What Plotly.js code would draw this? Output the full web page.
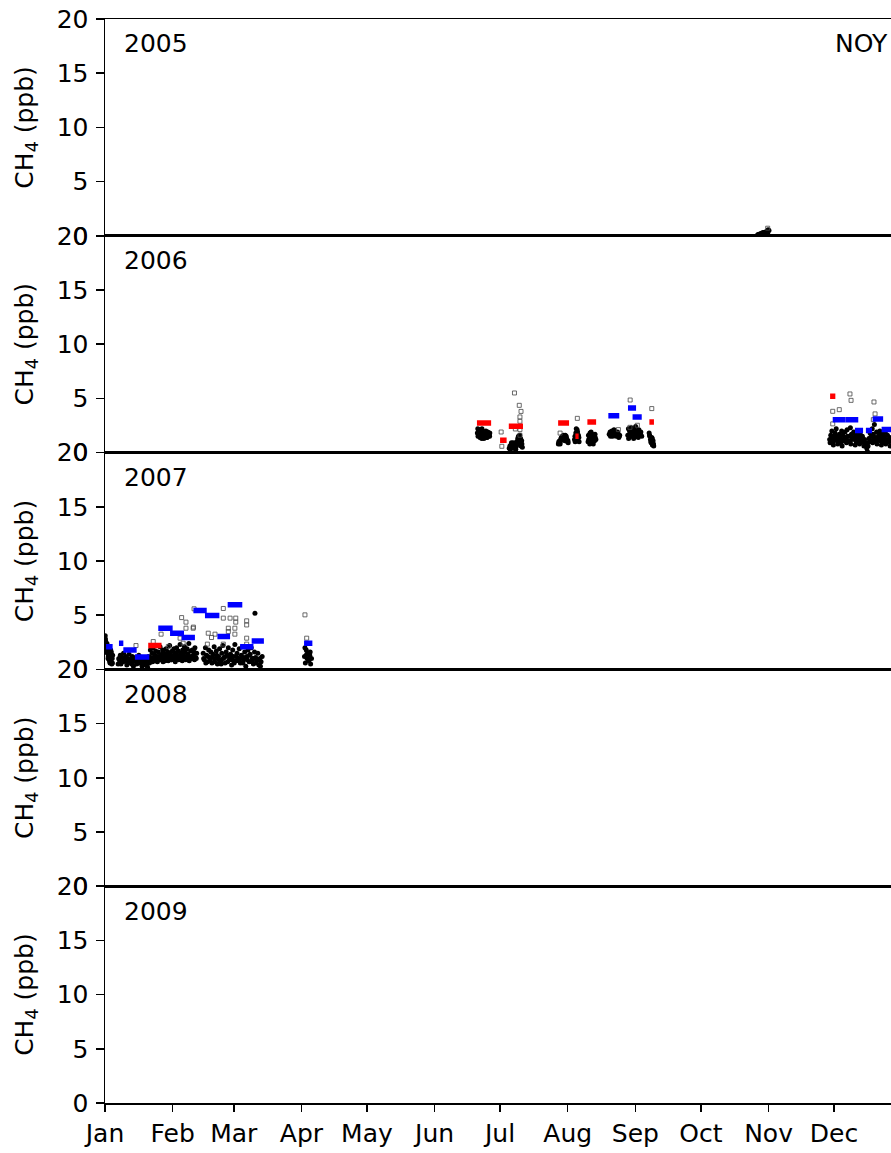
<!DOCTYPE html>
<html>
<head>
<meta charset="utf-8">
<script src="https://cdn.plot.ly/plotly-3.0.1.min.js"></script>
<style>html,body{margin:0;padding:0;background:#fff;overflow:hidden;}</style>
</head>
<body>
<div id="chart"></div>
<script>
// ---- axis labels ----
const years = ["2005", "2006", "2007", "2008", "2009"];
const monthLabels = ["Jan","Feb","Mar","Apr","May","Jun","Jul","Aug","Sep","Oct","Nov","Dec"];
const monthDays = [0, 31, 59, 90, 120, 151, 181, 212, 243, 273, 304, 334];
const yTicks = [0, 5, 10, 15, 20];
const stationLabel = "NOY";

// ---- 2005: black points (day of year, CH4 ppb) ----
const blk05_d = [299.0,299.4,299.8,300.2,300.6,301.0,301.4,301.8,302.2,302.6,303.0,303.4,303.8,304.2,300.0,301.2,302.4,303.6];
const blk05_v = [0.10,0.12,0.15,0.18,0.20,0.25,0.28,0.30,0.30,0.35,0.38,0.45,0.55,0.50,0.10,0.12,0.15,0.20];
const gry05_d = [303.6];
const gry05_v = [0.7];

// ---- 2006: black points ----
const blk06_d = [
 170.6,170.9,171.2,171.5,171.8,172.1,172.4,172.7,173.0,173.3,173.6,173.9,174.2,174.5,174.8,175.1,175.4,175.7,176.0,176.3,
 170.8,171.4,172.0,172.6,173.2,173.8,174.4,175.0,175.6,176.2,
 185.2,185.5,185.8,186.1,186.4,186.7,187.0,187.3,187.6,187.9,188.2,188.5,188.8,189.1,189.4,189.7,190.0,190.3,190.6,190.9,191.2,
 185.6,186.2,186.8,187.4,188.0,188.6,189.2,189.8,190.4,191.0,
 207.7,208.0,208.3,208.6,208.9,209.2,209.5,209.8,210.1,210.4,210.7,211.0,211.3,211.6,211.9,212.2,
 207.9,208.5,209.1,209.7,210.3,210.9,211.5,212.1,
 215.1,215.4,215.7,216.0,216.3,216.6,216.9,217.2,215.3,215.9,216.5,217.1,
 221.3,221.6,221.9,222.2,222.5,222.8,223.1,223.4,223.7,224.0,224.3,224.6,224.9,221.5,222.1,222.7,223.3,223.9,224.5,
 231.0,231.4,231.8,232.2,232.6,233.0,233.4,233.8,234.2,234.6,235.0,235.4,235.8,231.6,232.4,233.2,234.0,234.8,235.6,
 239.5,239.9,240.3,240.7,241.1,241.5,241.9,242.3,242.7,243.1,243.5,243.9,244.3,244.7,245.1,245.5,245.9,
 239.8,240.6,241.4,242.2,243.0,243.8,244.6,245.4,
 249.3,249.6,249.9,250.2,250.5,250.8,251.1,251.4,249.5,250.1,250.7,251.3,
 332.0,332.5,333.0,333.5,334.0,334.5,335.0,335.5,336.0,336.5,337.0,337.5,338.0,338.5,339.0,339.5,340.0,340.5,341.0,341.5,
 342.0,342.5,343.0,343.5,344.0,344.5,345.0,345.5,346.0,346.5,347.0,347.5,348.0,348.5,349.0,349.3,349.6,350.0,350.5,351.0,
 351.5,352.0,352.5,353.0,353.5,354.0,354.5,355.0,355.5,356.0,356.5,357.0,357.5,358.0,358.5,359.0,359.5,360.0,
 332.2,332.8,333.4,334.2,335.2,336.2,337.2,338.2,339.2,340.2,341.2,342.2,343.2,344.2,345.2,346.2,347.2,348.2,350.2,351.2,
 352.2,353.2,354.2,355.2,356.2,357.2,358.2,359.2,
 333.7,335.7,337.7,339.7,341.7,343.7,345.7,347.7,351.7,353.7,355.7,357.7,359.7
];
const blk06_v = [
 1.8,1.5,2.1,1.7,1.4,1.9,1.6,2.2,1.5,1.8,1.3,1.7,1.6,2.0,1.4,1.7,1.9,1.5,1.6,1.8,
 2.2,1.9,1.5,1.3,1.9,1.5,1.8,1.4,1.7,1.5,
 0.4,0.6,0.5,0.8,0.7,0.5,0.9,0.6,0.4,0.8,0.3,0.6,1.0,1.3,1.5,1.2,1.6,0.9,0.6,1.1,0.5,
 0.3,0.9,0.4,0.7,0.5,1.0,0.8,1.4,1.3,0.8,
 0.8,0.9,1.1,1.0,1.3,1.2,1.5,1.4,1.6,1.3,1.1,1.4,1.5,1.2,1.0,0.9,
 1.0,0.8,1.4,1.2,1.5,1.6,1.3,1.1,
 1.2,1.0,1.8,1.1,2.1,1.3,1.6,1.0,1.5,2.2,1.9,1.4,
 1.0,1.2,1.5,1.8,1.4,0.9,1.7,1.3,0.8,1.6,1.1,1.4,1.2,1.6,0.8,1.9,1.0,1.4,1.7,
 1.7,1.9,1.6,2.0,1.5,1.8,1.7,1.9,1.5,1.6,1.8,1.4,1.6,1.5,1.8,2.1,1.7,1.9,1.5,
 1.6,1.3,2.0,1.8,2.3,1.5,1.9,2.1,1.6,2.4,1.7,2.0,1.4,1.8,1.6,1.9,1.5,
 2.2,1.5,1.8,1.3,2.0,1.5,2.1,1.7,
 1.8,1.5,1.2,0.9,1.4,0.7,1.1,0.6,1.6,1.0,1.3,0.8,
 1.2,1.6,2.0,1.4,1.1,1.8,2.2,1.5,1.0,1.7,1.3,2.0,1.6,1.2,1.9,1.4,2.1,1.1,1.5,2.3,
 1.7,1.3,1.9,1.2,1.6,2.0,1.4,1.1,1.7,1.3,1.5,1.0,1.2,0.9,0.4,0.1,0.6,1.3,1.8,1.5,
 2.2,1.7,2.6,1.4,1.9,1.2,1.6,2.0,1.3,1.7,1.1,1.5,1.9,1.2,1.6,1.0,1.4,1.3,
 0.9,1.3,1.0,1.5,1.2,1.4,0.9,1.1,1.3,1.5,1.0,1.2,1.4,0.9,1.6,1.0,1.2,0.7,1.0,1.1,
 1.3,1.0,1.4,1.1,1.3,0.9,1.1,1.0,
 0.7,0.8,0.6,0.9,0.8,0.7,0.8,0.6,0.9,0.8,0.7,0.8,0.6
];
const gry06_d = [181.5,181.8,187.6,189.8,190.6,190.1,190.1,188.0,190.1,190.1,208.5,216.4,235.2,240.6,240.5,243.9,250.5,341.3,341.8,333.4,336.4,352.3,352.8,333.4,352.0];
const gry06_v = [1.9,0.58,5.5,4.36,3.8,3.29,2.89,2.18,2.12,1.6,1.8,3.16,2.12,4.85,2.33,2.52,4.06,5.41,4.82,3.81,3.96,4.67,3.57,2.65,3.04];
const red06_s = [170.4,181.0,185.0,207.6,215.5,221.0,249.4,332.2];
const red06_e = [176.9,184.0,191.5,212.6,217.0,225.0,251.5,334.6];
const red06_v = [2.74,1.13,2.43,2.74,1.5,2.83,2.83,5.19];
const blu06_s = [230.6,239.6,241.7,333.4,339.2,343.6,348.6,351.7,355.8];
const blu06_e = [235.6,243.3,245.9,339.2,345.1,347.3,351.4,356.5,360.5];
const blu06_v = [3.41,4.12,3.29,3.04,3.04,2.03,2.03,3.1,2.12];

// ---- 2007 ----
const blk07_d = [
 0.1,0.3,0.5,0.7,0.9,1.1,1.3,1.5,1.7,1.9,2.1,2.3,2.5,2.7,2.9,3.1,3.3,3.5,0.2,0.6,1.0,1.4,1.8,2.2,2.6,3.0,3.4,
 6.0,6.5,7.0,7.5,8.0,8.5,9.0,9.5,10.0,10.5,11.0,11.5,12.0,12.5,13.0,13.5,14.0,14.5,15.0,15.5,16.0,16.5,17.0,17.5,18.0,18.5,19.0,19.5,
 6.3,7.3,8.3,9.3,10.3,11.3,12.3,13.3,14.3,15.3,16.3,17.3,18.3,19.3,
 20.0,20.4,20.8,21.2,21.6,22.0,22.4,22.8,23.2,23.6,24.0,24.4,24.8,25.2,25.6,26.0,26.4,26.8,27.2,27.6,28.0,28.4,28.8,29.2,29.6,30.0,30.4,30.8,
 31.2,31.6,32.0,32.4,32.8,33.2,33.6,34.0,34.4,34.8,35.2,35.6,36.0,36.4,36.8,37.2,37.6,38.0,38.4,38.8,39.2,39.6,40.0,40.4,40.8,41.2,41.6,42.0,
 20.2,21.0,21.8,22.6,23.4,24.2,25.0,25.8,26.6,27.4,28.2,29.0,29.8,30.6,31.4,32.2,33.0,33.8,34.6,35.4,36.2,37.0,37.8,38.6,39.4,40.2,41.0,41.8,
 45.0,45.5,46.0,46.5,47.0,47.5,48.0,48.5,49.0,49.5,50.0,50.5,51.0,51.5,52.0,52.5,53.0,53.5,54.0,54.5,55.0,55.5,56.0,56.5,57.0,57.5,58.0,58.5,
 59.0,59.5,60.0,60.5,61.0,61.5,62.0,62.5,63.0,63.5,64.0,64.5,65.0,65.5,66.0,66.5,67.0,67.5,68.0,68.5,69.0,69.5,70.0,70.5,71.0,71.5,72.0,
 45.2,46.2,47.2,48.2,49.2,50.2,51.2,52.2,53.2,54.2,55.2,56.2,57.2,58.2,59.2,60.2,61.2,62.2,63.2,64.2,65.2,66.2,67.2,68.2,69.2,70.2,71.2,
 91.4,91.8,92.2,92.6,93.0,93.4,93.8,94.2,94.6,91.6,92.4,93.2,94.0,
 68.7
];
const blk07_v = [
 3.1,2.6,2.2,1.8,2.4,1.5,2.0,1.2,1.7,0.9,1.4,0.6,1.1,0.8,1.6,0.5,1.0,1.3,2.8,1.6,1.9,1.0,1.3,0.7,1.8,1.2,0.6,
 0.5,0.9,1.3,0.7,1.1,1.5,0.8,1.2,0.4,1.0,1.4,0.6,0.9,1.2,0.3,0.8,1.1,0.5,0.9,1.3,0.6,1.0,0.3,0.7,1.1,0.4,0.8,0.2,
 1.0,0.5,0.7,1.0,0.8,0.9,0.5,1.0,0.7,0.6,0.9,1.0,0.6,0.5,
 1.2,0.6,1.8,1.0,1.5,2.0,0.8,1.3,1.7,1.1,0.7,1.6,1.2,2.1,0.9,1.4,1.8,1.0,1.5,0.8,1.9,1.3,1.6,1.0,2.2,1.4,0.9,1.7,
 1.2,1.9,1.5,1.0,2.0,1.3,1.7,1.1,2.3,1.5,1.0,1.8,1.3,2.1,1.6,1.1,1.9,1.4,2.4,1.2,1.7,1.0,1.8,1.3,1.6,2.0,1.1,1.5,
 0.9,1.1,0.7,1.0,0.8,1.2,0.9,1.1,0.7,1.2,1.0,0.8,1.1,0.9,1.0,0.7,1.1,0.9,1.2,0.8,1.0,0.9,1.1,0.8,1.0,1.2,0.9,1.0,
 1.5,0.9,2.0,1.3,0.7,1.8,1.1,1.6,0.6,1.4,2.1,1.0,1.7,0.5,1.2,1.9,0.8,1.5,2.2,1.1,0.6,1.6,1.3,2.0,0.9,1.4,0.4,1.8,
 1.2,2.3,0.8,1.5,1.0,1.9,0.6,1.3,2.1,0.9,1.6,0.3,1.2,1.8,0.7,1.4,2.0,1.0,0.5,1.6,1.1,0.8,1.5,0.4,1.0,0.7,1.2,
 1.0,0.6,1.2,0.8,1.1,0.7,1.3,0.9,0.5,1.0,1.2,0.7,1.1,0.9,0.6,1.2,0.8,1.0,0.6,1.1,0.9,1.3,0.7,1.0,0.6,0.9,0.3,
 1.2,0.6,1.8,1.0,1.5,0.8,1.3,0.5,1.0,2.0,1.4,0.9,1.6,
 5.19
];
const gry07_d = [14.2,22.1,25.7,35.1,37.1,37.1,40.5,35.8,34.4,29.0,40.8,54.2,40.4,47.3,48.8,54.2,57.3,59.9,59.9,64.9,64.9,59.5,56.5,56.5,59.5,50.4,64.9,46.9,64.9,54.2,91.6,92.4];
const gry07_v = [2.2,2.57,3.25,4.78,4.36,3.8,3.9,2.42,2.88,2.1,5.59,5.62,3.8,3.34,2.94,4.73,4.73,4.73,4.36,4.48,4.1,3.8,3.8,3.49,3.25,3.25,2.88,2.33,2.33,2.33,5.03,2.88];
const red07_s = [19.8];
const red07_e = [25.9];
const red07_v = [2.2];
const blu07_s = [0.5,6.4,8.4,13.7,24.4,29.8,35.1,40.5,45.8,51.5,56.2,61.9,67.2,91.2];
const blu07_e = [3.5,8.4,14.5,20.3,31.0,36.2,41.2,46.6,52.4,57.3,62.9,68.0,72.8,95.0];
const blu07_v = [2.1,2.42,1.8,1.15,3.8,3.34,2.94,5.43,4.97,3.03,5.96,2.1,2.63,2.42];

// ---- build traces ----
function segs(s, e, v) {
  const x = [], y = [];
  for (let i = 0; i < s.length; i++) { x.push(s[i], e[i], null); y.push(v[i], v[i], null); }
  return {x, y};
}
const traces = [];
function addPanel(n, bd, bv, gd, gv, bars) {
  const xa = 'x' + (n === 1 ? '' : n), ya = 'y' + (n === 1 ? '' : n);
  if (bd) traces.push({type:'scatter', mode:'markers', x:bd, y:bv, xaxis:xa, yaxis:ya,
    marker:{color:'black', size:5, line:{width:0}}, hoverinfo:'skip'});
  if (gd) traces.push({type:'scatter', mode:'markers', x:gd, y:gv, xaxis:xa, yaxis:ya,
    marker:{symbol:'square-open', color:'rgba(70,70,70,0.8)', size:4, line:{width:1}}, hoverinfo:'skip'});
  (bars || []).forEach(b => {
    const s = segs(b.s, b.e, b.v);
    traces.push({type:'scatter', mode:'lines', x:s.x, y:s.y, xaxis:xa, yaxis:ya,
      line:{color:b.c, width:5.5}, hoverinfo:'skip', connectgaps:false});
  });
}
addPanel(1, blk05_d, blk05_v, gry05_d, gry05_v, []);
addPanel(2, blk06_d, blk06_v, gry06_d, gry06_v, [
  {s:red06_s, e:red06_e, v:red06_v, c:'#ff0000'},
  {s:blu06_s, e:blu06_e, v:blu06_v, c:'#0000ff'}]);
addPanel(3, blk07_d, blk07_v, gry07_d, gry07_v, [
  {s:red07_s, e:red07_e, v:red07_v, c:'#ff0000'},
  {s:blu07_s, e:blu07_e, v:blu07_v, c:'#0000ff'}]);
traces.push({type:'scatter', mode:'markers', x:[], y:[], xaxis:'x4', yaxis:'y4'});
traces.push({type:'scatter', mode:'markers', x:[], y:[], xaxis:'x5', yaxis:'y5'});

const FONT = 'DejaVu Sans, sans-serif';
const FS = 25;
const layout = {
  width: 891, height: 1153,
  margin: {l:105, r:0, t:19, b:50, autoexpand:false},
  showlegend: false,
  paper_bgcolor: 'white', plot_bgcolor: 'white',
  font: {family: FONT, size: FS, color: 'black'},
  annotations: []
};
for (let i = 0; i < 5; i++) {
  const n = i + 1, sfx = n === 1 ? '' : n;
  const top = 1 - i / 5, bot = 1 - (i + 1) / 5;
  layout['xaxis' + sfx] = {
    domain: [0, 1], range: [0, 360.1], anchor: 'y' + sfx,
    showline: true, mirror: true, linecolor: 'black', linewidth: 1.5,
    showgrid: false, zeroline: false, fixedrange: true,
    tickmode: 'array', tickvals: monthDays, ticktext: monthLabels,
    ticks: i === 4 ? 'outside' : '', ticklen: 7, tickwidth: 1.5, tickcolor: 'black',
    ticklabelstandoff: 0,
    showticklabels: i === 4, tickfont: {family: FONT, size: FS}
  };
  layout['yaxis' + sfx] = {
    domain: [bot, top], range: [0, 20], anchor: 'x' + sfx,
    showline: true, linecolor: 'black', linewidth: 1.5,
    showgrid: false, zeroline: false, fixedrange: true,
    tickmode: 'array', tickvals: yTicks, ticktext: yTicks.map(String),
    ticks: 'outside', ticklen: 8, tickwidth: 1.5, tickcolor: 'black',
    ticklabelstandoff: 2,
    tickfont: {family: FONT, size: FS},
    title: {text: 'CH<sub>4</sub> (ppb)', font: {family: FONT, size: FS}, standoff: 16}
  };
  layout.annotations.push({
    text: years[i], xref: 'paper', x: 0.0216, xanchor: 'left',
    yref: 'y' + sfx + ' domain', y: 0.885, yanchor: 'middle',
    showarrow: false, font: {family: FONT, size: FS}
  });
}
layout.annotations.push({
  text: stationLabel, xref: 'paper', x: 0.9265, xanchor: 'left',
  yref: 'y domain', y: 0.885, yanchor: 'middle',
  showarrow: false, font: {family: FONT, size: FS}
});

Plotly.newPlot('chart', traces, layout, {staticPlot: true, displayModeBar: false});
</script>
</body>
</html>
